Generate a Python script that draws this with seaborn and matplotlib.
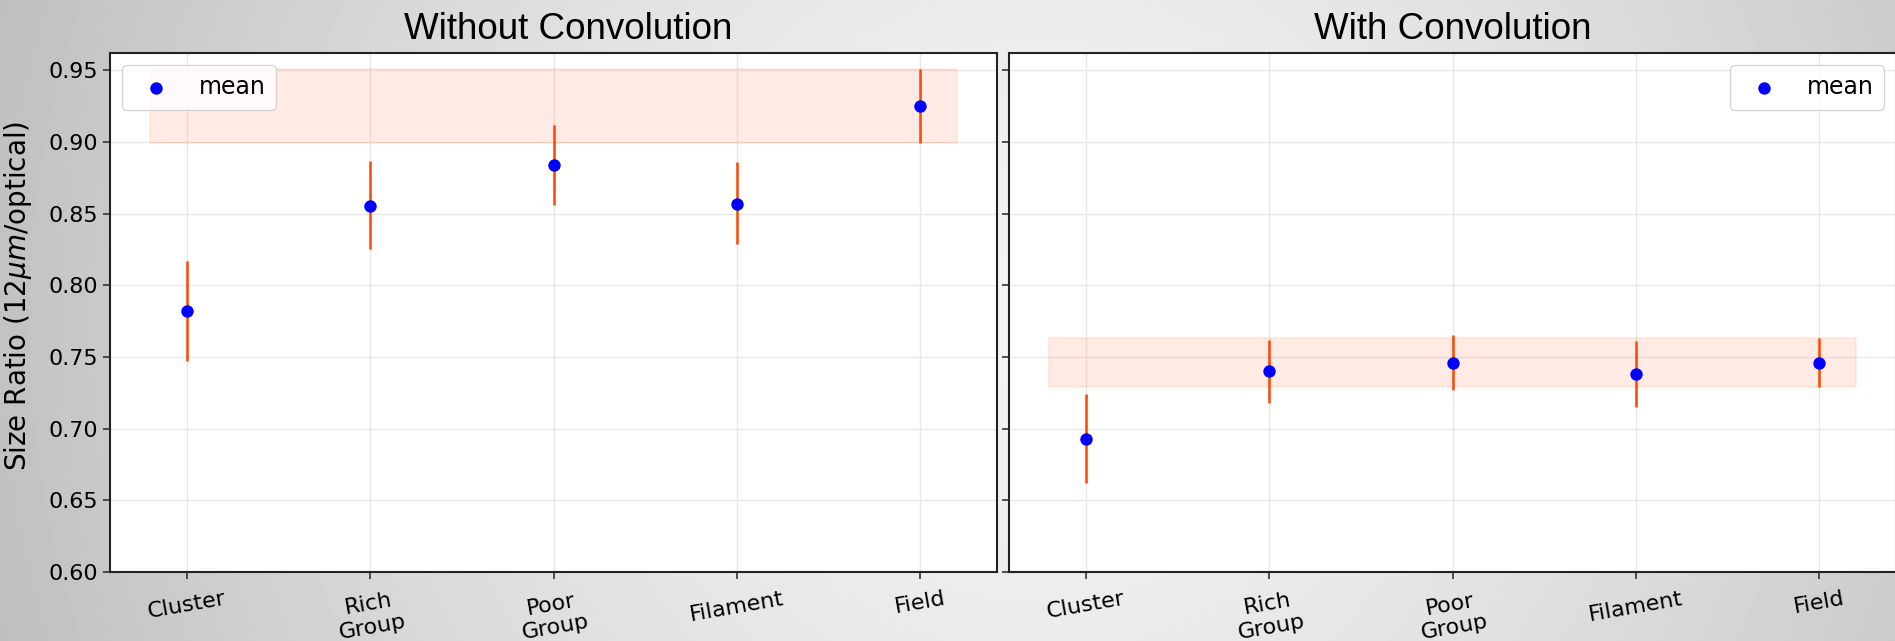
import numpy as np
import pandas as pd
import matplotlib
matplotlib.use("Agg")
import matplotlib.pyplot as plt
import seaborn as sns

# ---------------- data ----------------
categories = ["Cluster", "Rich\nGroup", "Poor\nGroup", "Filament", "Field"]

# Without convolution
nc_mean = [0.782, 0.855, 0.884, 0.857, 0.925]
nc_low  = [0.747, 0.825, 0.856, 0.829, 0.899]
nc_high = [0.817, 0.887, 0.912, 0.886, 0.951]

# With convolution
wc_mean = [0.693, 0.740, 0.746, 0.738, 0.746]
wc_low  = [0.662, 0.718, 0.727, 0.715, 0.729]
wc_high = [0.724, 0.762, 0.765, 0.761, 0.763]

titles = ["Without Convolution", "With Convolution"]
ylabel = "Size Ratio (12$\\mu m$/optical)"
yticks = [0.60, 0.65, 0.70, 0.75, 0.80, 0.85, 0.90, 0.95]

# ---------------- figure ----------------
sns.set_style("white")
plt.rcParams["font.family"] = ["DejaVu Sans"]
for k in ["text.color", "axes.labelcolor", "xtick.color", "ytick.color"]:
    plt.rcParams[k] = "black"

W, H = 1895, 641
fig = plt.figure(figsize=(W / 100, H / 100), dpi=100)

# gradient background (slide-like)
yy, xx = np.mgrid[0:H, 0:W]
r = np.sqrt((xx - 1040.0) ** 2 + (yy - 320.0) ** 2) / 1000.0
val = 243 - 46 * r ** 1.5
bg = fig.add_axes([0, 0, 1, 1], zorder=-10)
bg.imshow(val, cmap="gray", vmin=0, vmax=255, aspect="auto",
          extent=[0, 1, 0, 1], interpolation="bilinear")
bg.axis("off")

ax_w = 887 / W
ax_h = 519 / H
ax_b = (H - 572) / H
axL = fig.add_axes([110 / W, ax_b, ax_w, ax_h])
axR = fig.add_axes([1009 / W, ax_b, ax_w, ax_h], sharey=axL)

panels = [
    (axL, nc_mean, nc_low, nc_high, "upper left", 0.5 + 15 / 887),
    (axR, wc_mean, wc_low, wc_high, "upper right", 0.5),
]

for i, (ax, mean, low, high, loc, tx) in enumerate(panels):
    df = pd.DataFrame({"category": categories, "mean": mean,
                       "low": low, "high": high})
    ax.set_facecolor("white")
    ax.set_axisbelow(True)
    ax.grid(True, color="#e8e8e8", lw=1.0)

    # shaded band = Field range
    ax.fill_between([-0.2, 4.2], low[-1], high[-1], color="coral",
                    alpha=0.15, lw=1.2, zorder=1)

    # error bars
    ax.vlines(np.arange(len(categories)), df["low"], df["high"],
              color="orangered", lw=1.8, zorder=2)

    sns.scatterplot(data=df, x="category", y="mean", ax=ax, color="blue",
                    s=80, linewidth=0, zorder=3, label="mean")

    ax.set_xlim(-0.42, 4.42)
    ax.set_ylim(0.60, 0.962)
    ax.set_yticks(yticks)
    ax.set_xlabel("")
    ax.set_title(titles[i], fontsize=26.5, family="Liberation Sans",
                 pad=10, x=tx)
    ax.tick_params(axis="both", direction="out", length=5, width=1.2,
                   color="#333333", labelsize=16, bottom=True, left=True)
    ax.tick_params(axis="x", pad=7)
    for lab in ax.get_xticklabels():
        lab.set_rotation(10)
        lab.set_ha("center")
    for sp in ax.spines.values():
        sp.set_color("#222222")
        sp.set_linewidth(1.5)
    leg = ax.legend(loc=loc, fontsize=17, frameon=True, borderpad=0.45)
    leg.get_frame().set_edgecolor("#cccccc")

axL.set_ylabel(ylabel, fontsize=20)
axL.yaxis.set_label_coords(-0.086, 0.5 + 17 / 519)
axL.set_yticklabels([f"{v:.2f}" for v in yticks])
axR.set_ylabel("")
axR.tick_params(axis="y", labelleft=False)

fig.savefig("out.png", dpi=100)
